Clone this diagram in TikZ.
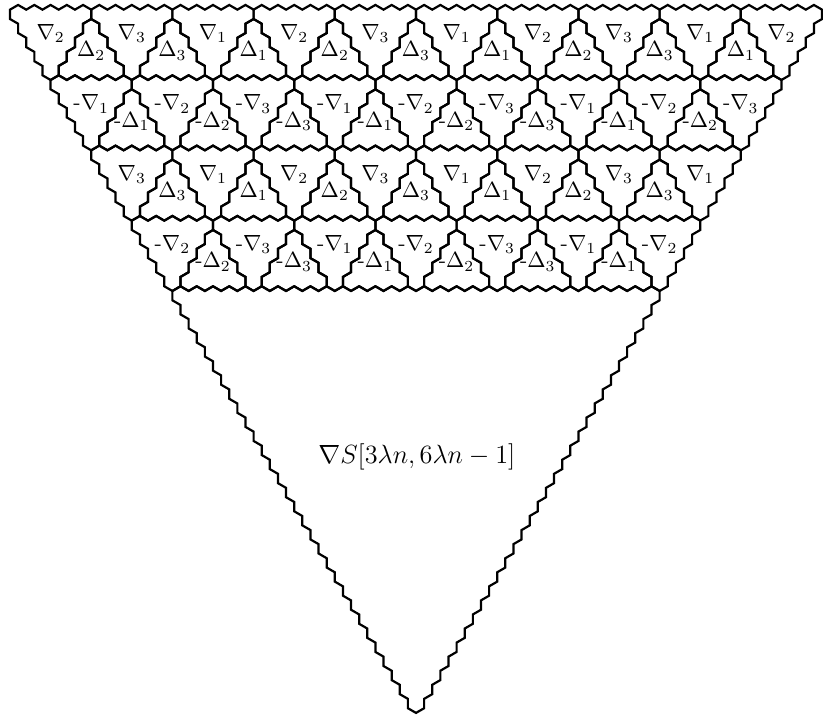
\documentclass[tikz,border=0pt]{standalone}
\usepackage{amsmath}
\usetikzlibrary{calc}

\tikzset{
  wall/.style={line width=1pt, line join=miter},
  tilelab/.style={inner sep=0pt},
}

% down triangle of hexagons: left corner x, row y, size
\newcommand{\nablatile}[3]{%
  \draw[wall] (#1,#2+1)
    \foreach \k in {1,...,#3} { -- ++(1,1) -- ++(1,-1) }
    \foreach \k in {1,...,#3} { -- ++(0,-2) -- ++(-1,-1) }
    \foreach \k in {1,...,#3} { -- ++(-1,1) -- ++(0,2) } -- cycle;}

% up triangle of hexagons: apex x, apex y, size
\newcommand{\deltatile}[3]{%
  \draw[wall] (#1,#2)
    \foreach \k in {1,...,#3} { -- ++(1,-1) -- ++(0,-2) }
    \foreach \k in {1,...,#3} { -- ++(-1,-1) -- ++(-1,1) }
    \foreach \k in {1,...,#3} { -- ++(0,2) -- ++(1,1) } -- cycle;}

\begin{document}
\begin{tikzpicture}[x=0.13cm, y=0.0750555cm]
  \useasboundingbox (-1.23,-150.06) rectangle (100.12,3.06);

  % four rows of small tiles
  \foreach \row in {0,...,3} {
    \pgfmathtruncatemacro{\nn}{9-\row}
    \foreach \col in {0,...,\nn} {
      \pgfmathtruncatemacro{\xo}{5*\row+10*\col}
      \pgfmathtruncatemacro{\yo}{-15*\row}
      \pgfmathtruncatemacro{\lab}{mod(\col+4-\row,3)+1}
      \nablatile{\xo}{\yo}{5}
      \node[tilelab] (nab-\row-\col) at (\xo+5,\yo-4.1) {\ifodd\row-\fi$\nabla_{\lab}$};
      \ifnum\col<\nn
        \deltatile{\xo+10}{\yo-1}{4}
        \node[tilelab] (del-\row-\col) at (\xo+10,\yo-7.8) {\ifodd\row-\fi$\Delta_{\lab}$};
      \fi
    }
  }

  % the big one below
  \nablatile{20}{-60}{30}
  \node[font=\large] (bigS) at (50.1,-94.4) {$\nabla S[3\lambda n,6\lambda n-1]$};
\end{tikzpicture}
\end{document}
